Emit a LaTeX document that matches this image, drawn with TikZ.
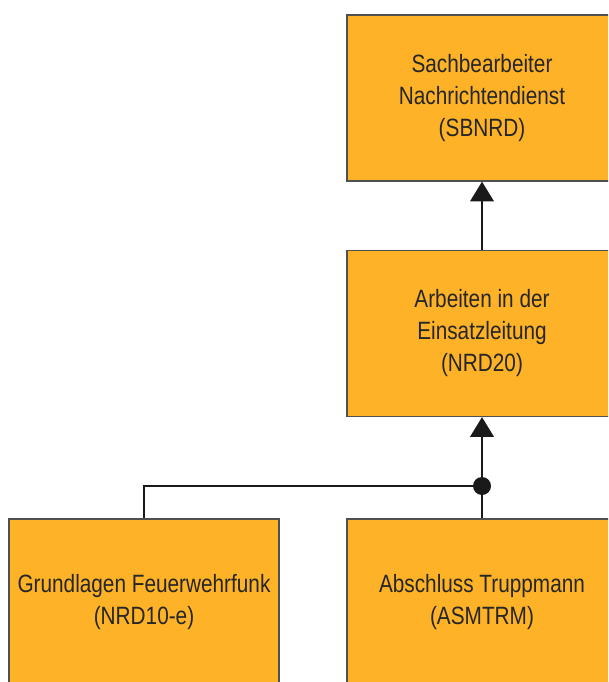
\documentclass[tikz,border=0pt]{standalone}
\usepackage{fontspec}
\setmainfont[FakeStretch=0.83]{Liberation Sans}
\usetikzlibrary{arrows.meta}
\definecolor{boxorange}{HTML}{FDB227}
\definecolor{boxline}{HTML}{505050}
\definecolor{linkline}{HTML}{1A1A1A}

\begin{document}
\begin{tikzpicture}
        [%%%%%%%%%%%%%%%%%%%%%%%%%%%%%%
        x=0.025cm, y=-0.025cm,
        course/.style={rectangle, draw=boxline, line width=0.8pt, fill=boxorange,
          minimum width=6.75cm, minimum height=4.15cm, align=center,
          font=\fontsize{17.8}{22.75}\selectfont, text=black!85},
        dot/.style={circle, fill=linkline, inner sep=0pt, minimum size=12.8pt},
        link/.style={draw=linkline, line width=2pt},
        up/.style={link, -{Triangle[length=14pt, width=16.5pt]}},
        ]%%%%%%%%%%%%%%%%%%%%%%%%%%%%%%
        \clip (0,0) rectangle (608,682);
        % Course boxes
        \node[course] (sbnrd) at (482,98) {Sachbearbeiter\\Nachrichtendienst\\(SBNRD)};
        \node[course] (nrd20) at (482,333.5) {Arbeiten in der\\Einsatzleitung\\(NRD20)};
        \node[course] (nrd10) at (144,602) {Grundlagen Feuerwehrfunk\\(NRD10-e)};
        \node[course] (asmtrm) at (482,602) {Abschluss Truppmann\\(ASMTRM)};
        % Junction
        \node[dot] (join) at (482,486) {};

        \draw[link] (nrd10.north) |- (join);
        \draw[link] (asmtrm.north) -- (join);
        \draw[up] (join) -- (nrd20.south);
        \draw[up] (nrd20.north) -- (sbnrd.south);

      \end{tikzpicture}
\end{document}
